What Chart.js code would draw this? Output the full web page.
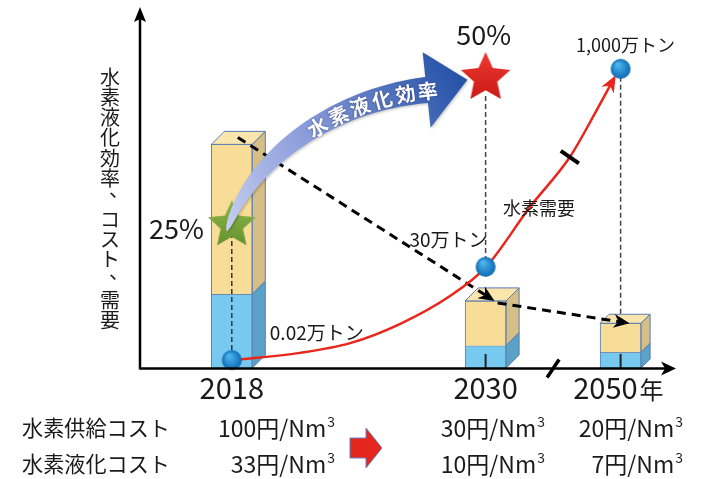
<!DOCTYPE html>
<html>
<head>
<meta charset="utf-8">
<script src="https://cdn.jsdelivr.net/npm/chart.js@4"></script>
<style>
  html, body { margin: 0; padding: 0; background: #fff; }
  #wrap { width: 703px; height: 479px; position: relative; }
</style>
</head>
<body>
<div id="wrap"><canvas id="chart"></canvas></div>
<script>
// データ
const years = ['2018', '2030', '2050'];
const yearPos = [17, 64, 89];                 // 横軸上の位置（途中省略あり）
const supplyCost = [100, 30, 20];             // 水素供給コスト 円/Nm3
const liquefactionCost = [33, 10, 7];         // 水素液化コスト 円/Nm3
const efficiency = [25, 50];                  // 水素液化効率 %
const demand = [0.02, 30, 1000];              // 水素需要 万トン
const demandLevel = [2.2, 28.1, 83.1];        // 需要の図上の高さ
const demandCurveX = [17, 29.6, 38.9, 48.1, 57.4, 64.1, 72.2, 79.6, 84.6, 87.4];
const demandCurveY = [2.2, 4.2, 6.9, 12.2, 20.0, 28.1, 44.7, 58.6, 71.7, 79.4];
const costRows = ['水素供給コスト', '水素液化コスト'];
const axisTitle = '水素液化効率、コスト、需要';

const FONT = '"Noto Sans CJK JP", "Noto Sans", sans-serif';
const boxDepth = [13, 13, 9];

function makeStar(r, c1, c2) {
  const cv = document.createElement('canvas');
  cv.width = cv.height = r * 2 + 4;
  const g = cv.getContext('2d');
  const c = r + 2;
  g.beginPath();
  for (let i = 0; i < 10; i++) {
    const rr = i % 2 === 0 ? r : r * 0.47;
    const a = -Math.PI / 2 + i * Math.PI / 5;
    g.lineTo(c + rr * Math.cos(a), c + rr * Math.sin(a));
  }
  g.closePath();
  const grad = g.createLinearGradient(0, 0, 0, cv.height);
  grad.addColorStop(0, c1);
  grad.addColorStop(1, c2);
  g.fillStyle = grad;
  g.fill();
  return cv;
}

function makeBall(r) {
  const cv = document.createElement('canvas');
  cv.width = cv.height = r * 2 + 2;
  const g = cv.getContext('2d');
  const c = r + 1;
  const grad = g.createRadialGradient(c - r * 0.3, c - r * 0.45, r * 0.1, c, c, r);
  grad.addColorStop(0, '#4cb6ee');
  grad.addColorStop(1, '#0d6bb4');
  g.fillStyle = grad;
  g.beginPath();
  g.arc(c, c, r, 0, Math.PI * 2);
  g.fill();
  return cv;
}

const starGreen = makeStar(25, '#93b84e', '#5e8d2a');
const starRed = makeStar(26, '#f03a30', '#c51515');
const ball = makeBall(10);

function poly(ctx, pts, fill, stroke) {
  ctx.beginPath();
  pts.forEach((p, i) => i ? ctx.lineTo(p[0], p[1]) : ctx.moveTo(p[0], p[1]));
  ctx.closePath();
  ctx.fillStyle = fill;
  ctx.fill();
  if (stroke) {
    ctx.strokeStyle = stroke;
    ctx.lineWidth = 1;
    ctx.stroke();
  }
}

function line(ctx, x1, y1, x2, y2, color, width, dash) {
  ctx.save();
  ctx.beginPath();
  ctx.setLineDash(dash || []);
  ctx.moveTo(x1, y1);
  ctx.lineTo(x2, y2);
  ctx.strokeStyle = color;
  ctx.lineWidth = width;
  ctx.stroke();
  ctx.restore();
}

function arrowHead(ctx, x1, y1, x2, y2, len, half, color) {
  const a = Math.atan2(y2 - y1, x2 - x1);
  ctx.save();
  ctx.translate(x2, y2);
  ctx.rotate(a);
  ctx.beginPath();
  ctx.moveTo(0, 0);
  ctx.lineTo(-len, -half);
  ctx.lineTo(-len * 0.7, 0);
  ctx.lineTo(-len, half);
  ctx.closePath();
  ctx.fillStyle = color;
  ctx.fill();
  ctx.restore();
}

function txt(ctx, s, x, y, size, align, color, weight) {
  ctx.font = (weight || '') + ' ' + size + 'px ' + FONT;
  ctx.textAlign = align || 'center';
  ctx.textBaseline = 'middle';
  ctx.fillStyle = color || '#1a1a1a';
  ctx.fillText(s, x, y);
}

// 指定幅に収まる文字サイズ
function fitSize(ctx, s, width, base) {
  ctx.font = base + 'px ' + FONT;
  return base * width / ctx.measureText(s).width;
}

function drawBoxes(chart) {
  const ctx = chart.ctx;
  const blue = chart.getDatasetMeta(0).data;
  const yel = chart.getDatasetMeta(1).data;
  const eff = chart.getDatasetMeta(2).data;
  const dem = chart.getDatasetMeta(4).data;
  const edge = '#5a7db3';
  const tops = [];
  yel.forEach((bar, i) => {
    const d = boxDepth[i];
    const L = bar.x - bar.width / 2, R = bar.x + bar.width / 2;
    const top = Math.min(bar.y, bar.base);
    const mid = Math.min(blue[i].y, blue[i].base);
    const bot = Math.max(blue[i].y, blue[i].base);
    poly(ctx, [[L, top], [L + d, top - d], [R + d, top - d], [R, top]], '#fae5ad', edge);
    poly(ctx, [[R, top], [R + d, top - d], [R + d, mid - d], [R, mid]], '#d6bf86', edge);
    poly(ctx, [[R, mid], [R + d, mid - d], [R + d, bot - d], [R, bot]], '#5aa2c8', edge);
    tops.push({ x: bar.x, top, d, bot });
    if (i === 0) {
      line(ctx, bar.x, eff[0].y, bar.x, dem[0].y, '#333', 1.5, [5, 3]);
    } else {
      const from = i === 1 ? eff[1].y + 18 : dem[i].y;
      const to = i === 1 ? dem[i].y : top - d;
      line(ctx, bar.x, from, bar.x, to, '#444', 1.5, [5, 3]);
      line(ctx, bar.x, bot - 14, bar.x, bot, '#222', 2);
    }
  });
  // コスト低下の破線矢印
  const a0 = { x: tops[0].x + 6, y: tops[0].top - 7 };
  const a1 = { x: tops[1].x + 9, y: tops[1].top };
  const b0 = { x: tops[1].x + 12, y: tops[1].top + 2 };
  const b1 = { x: tops[2].x + 9, y: tops[2].top };
  [[a0, a1], [b0, b1]].forEach(([p, q]) => {
    const ang = Math.atan2(q.y - p.y, q.x - p.x);
    line(ctx, p.x, p.y, q.x - 8 * Math.cos(ang), q.y - 8 * Math.sin(ang), '#000', 3, [9, 6]);
    arrowHead(ctx, p.x, p.y, q.x, q.y, 16, 7, '#000');
  });
}

function bez(P, t) {
  const u = 1 - t;
  return {
    x: u * u * u * P[0].x + 3 * u * u * t * P[1].x + 3 * u * t * t * P[2].x + t * t * t * P[3].x,
    y: u * u * u * P[0].y + 3 * u * u * t * P[1].y + 3 * u * t * t * P[2].y + t * t * t * P[3].y
  };
}
function bezD(P, t) {
  const u = 1 - t;
  return {
    x: 3 * u * u * (P[1].x - P[0].x) + 6 * u * t * (P[2].x - P[1].x) + 3 * t * t * (P[3].x - P[2].x),
    y: 3 * u * u * (P[1].y - P[0].y) + 6 * u * t * (P[2].y - P[1].y) + 3 * t * t * (P[3].y - P[2].y)
  };
}

function drawArrowBand(chart) {
  const ctx = chart.ctx;
  const eff = chart.getDatasetMeta(2).data;
  const s = eff[0], e = eff[1];
  const P0 = { x: s.x - 5, y: s.y + 6 };
  const P3 = { x: e.x - 59, y: e.y + 12 };
  const P = [P0, { x: P0.x + 23, y: P0.y - 71 }, { x: P3.x - 96, y: P3.y + 10 }, P3];
  const left = [], right = [];
  for (let k = 0; k <= 40; k++) {
    const t = k / 40;
    const b = bez(P, t), dv = bezD(P, t);
    const l = Math.hypot(dv.x, dv.y);
    const nx = -dv.y / l, ny = dv.x / l;
    const h = 0.5 + 12.5 * Math.sqrt(t);
    left.push([b.x + nx * h, b.y + ny * h]);
    right.push([b.x - nx * h, b.y - ny * h]);
  }
  const dEnd = bezD(P, 1);
  const le = Math.hypot(dEnd.x, dEnd.y);
  const ux = dEnd.x / le, uy = dEnd.y / le;
  const tip = [P3.x + ux * 41, P3.y + uy * 41 - 6];
  const pts = left.concat([[P3.x - uy * 38, P3.y + ux * 38], tip, [P3.x + uy * 38, P3.y - ux * 38]], right.reverse());
  const grad = ctx.createLinearGradient(P0.x, P0.y, tip[0], tip[1]);
  grad.addColorStop(0, '#c6cff0');
  grad.addColorStop(0.45, '#8598d8');
  grad.addColorStop(1, '#2350a6');
  ctx.save();
  ctx.shadowColor = 'rgba(0,0,0,0.25)';
  ctx.shadowBlur = 3;
  ctx.shadowOffsetX = 1;
  ctx.shadowOffsetY = 1;
  poly(ctx, pts, grad);
  ctx.restore();

  // 矢印上の文字
  const table = [];
  let acc = 0, prev = bez(P, 0);
  for (let k = 0; k <= 200; k++) {
    const b = bez(P, k / 200);
    acc += Math.hypot(b.x - prev.x, b.y - prev.y);
    table.push({ t: k / 200, s: acc, p: b });
    prev = b;
  }
  const total = acc;
  const at = (sv) => {
    if (sv >= total) return { x: P3.x + ux * (sv - total), y: P3.y + uy * (sv - total), a: Math.atan2(uy, ux) };
    const r = table.find(o => o.s >= sv);
    const dv = bezD(P, r.t);
    return { x: r.p.x, y: r.p.y, a: Math.atan2(dv.y, dv.x) };
  };
  const label = '水素液化効率';
  const start = table.find(o => o.t >= 0.58).s;
  ctx.save();
  ctx.font = 'bold 20px ' + FONT;
  ctx.textAlign = 'center';
  ctx.textBaseline = 'middle';
  ctx.fillStyle = '#fff';
  ctx.shadowColor = 'rgba(0,0,40,0.5)';
  ctx.shadowBlur = 2;
  [...label].forEach((ch, i) => {
    const q = at(start + i * 23.5);
    ctx.save();
    ctx.translate(q.x, q.y);
    ctx.rotate(q.a);
    ctx.fillText(ch, 0, 1);
    ctx.restore();
  });
  ctx.restore();
}

function drawCurveEnd(chart) {
  const ctx = chart.ctx;
  const pts = chart.getDatasetMeta(3).data;
  const n = pts.length;
  const p = pts[n - 2], q = pts[n - 1];
  arrowHead(ctx, p.x, p.y, q.x + (q.x - p.x) * 0.25, q.y + (q.y - p.y) * 0.25, 17, 7, '#e8261c');
  // 途中省略の印
  const m = pts[7], a = pts[6], b = pts[8];
  const dx = b.x - a.x, dy = b.y - a.y, l = Math.hypot(dx, dy);
  const nx = -dy / l * 11, ny = dx / l * 11;
  line(ctx, m.x - nx, m.y - ny, m.x + nx, m.y + ny, '#000', 4);
}

function drawAxes(chart) {
  const ctx = chart.ctx;
  const ca = chart.chartArea;
  const x0 = ca.left, y0 = ca.bottom + 0.5;
  line(ctx, x0, y0 + 1, x0, ca.top + 10, '#000', 2.5);
  poly(ctx, [[x0, ca.top - 1], [x0 - 6, ca.top + 14], [x0, ca.top + 11], [x0 + 6, ca.top + 14]], '#000');
  line(ctx, x0, y0, ca.right - 10, y0, '#000', 2.5);
  poly(ctx, [[ca.right - 4, y0], [ca.right - 19, y0 - 7], [ca.right - 15, y0], [ca.right - 19, y0 + 7]], '#000');
  const xs = chart.scales.x;
  const mx = (xs.getPixelForValue(yearPos[1]) + xs.getPixelForValue(yearPos[2])) / 2;
  line(ctx, mx - 6, y0 + 9, mx + 6, y0 - 9, '#000', 3.5);
}

function drawLabels(chart) {
  const ctx = chart.ctx;
  const xs = chart.scales.x;
  const eff = chart.getDatasetMeta(2).data;
  const dem = chart.getDatasetMeta(4).data;

  // 縦書きの軸タイトル
  [...axisTitle].forEach((ch, i) => {
    const cy = 77 + i * 20.3;
    if (ch === '、') txt(ctx, ch, 119, cy - 9, 20);
    else txt(ctx, ch, 110, cy, 20);
  });

  // 年
  years.forEach((y, i) => {
    const px = xs.getPixelForValue(yearPos[i]);
    if (i === 2) {
      txt(ctx, y, px + 17, 388, 29, 'right');
      txt(ctx, '年', px + 19, 390, 24, 'left');
    } else {
      txt(ctx, y, px, 388, 29, 'center');
    }
  });

  // 効率
  txt(ctx, efficiency[0] + '%', eff[0].x - 28, eff[0].y + 4, 27, 'right');
  txt(ctx, efficiency[1] + '%', eff[1].x - 2, eff[1].y - 43, 27, 'center');

  // 需要
  const dl = demand.map(v => v.toLocaleString('en-US') + '万トン');
  txt(ctx, dl[0], dem[0].x + 38, dem[0].y - 27, 19, 'left');
  txt(ctx, dl[1], dem[1].x + 2, dem[1].y - 27, 19, 'right');
  txt(ctx, dl[2], dem[2].x + 5, dem[2].y - 24, 18, 'center');
  txt(ctx, '水素需要', 539, 208, 18, 'center');

  // コスト表
  const colRight = [335, 545, 683];
  const rowY = [428, 464];
  const rowSize = fitSize(ctx, costRows[0], 148, 20);
  [supplyCost, liquefactionCost].forEach((arr, r) => {
    txt(ctx, costRows[r], 22, rowY[r], rowSize, 'left');
    arr.forEach((v, i) => {
      ctx.font = '14px ' + FONT;
      const w3 = ctx.measureText('3').width;
      txt(ctx, v + '円/Nm', colRight[i] - w3 - 1, rowY[r], 23, 'right');
      txt(ctx, '3', colRight[i], rowY[r] - 6, 14, 'right');
    });
  });
  // 赤い矢印
  poly(ctx, [[350, 438], [366, 438], [366, 428], [382, 448], [366, 468], [366, 458], [350, 458]], '#e4261d', '#6a7fc0');
}

const decoPlugin = {
  id: 'deco',
  afterDatasetDraw(chart, args) {
    if (args.index === 1) drawBoxes(chart);
    if (args.index === 2) drawArrowBand(chart);
    if (args.index === 3) drawCurveEnd(chart);
  },
  afterDraw(chart) {
    drawAxes(chart);
    drawLabels(chart);
  }
};

new Chart(document.getElementById('chart'), {
  type: 'bar',
  data: {
    datasets: [
      {
        label: costRows[1],
        data: yearPos.map((x, i) => ({ x, y: liquefactionCost[i] })),
        yAxisID: 'yCost',
        backgroundColor: '#77c9ef',
        borderColor: '#5a7db3',
        borderWidth: 1,
        barThickness: 41,
        grouped: false,
        order: 10
      },
      {
        label: costRows[0],
        data: yearPos.map((x, i) => ({ x, y: [liquefactionCost[i], supplyCost[i]] })),
        yAxisID: 'yCost',
        backgroundColor: '#f8dd98',
        borderColor: '#5a7db3',
        borderWidth: 1,
        barThickness: 41,
        grouped: false,
        order: 9
      },
      {
        type: 'scatter',
        label: '水素液化効率',
        data: efficiency.map((v, i) => ({ x: yearPos[i], y: v })),
        yAxisID: 'yEff',
        pointStyle: [starGreen, starRed],
        pointRadius: 26,
        clip: false,
        order: 3
      },
      {
        type: 'line',
        label: '水素需要',
        data: demandCurveX.map((x, i) => ({ x, y: demandCurveY[i] })),
        yAxisID: 'yLevel',
        borderColor: '#e8261c',
        borderWidth: 2.5,
        pointRadius: 0,
        cubicInterpolationMode: 'monotone',
        fill: false,
        order: 2
      },
      {
        type: 'scatter',
        label: '水素需要',
        data: demandLevel.map((v, i) => ({ x: yearPos[i], y: v })),
        yAxisID: 'yLevel',
        pointStyle: ball,
        pointRadius: 10,
        clip: false,
        order: 1
      }
    ]
  },
  options: {
    responsive: true,
    maintainAspectRatio: false,
    animation: false,
    events: [],
    layout: { autoPadding: false, padding: { left: 140, right: 23, top: 8, bottom: 111 } },
    plugins: { legend: { display: false }, tooltip: { enabled: false } },
    scales: {
      x: { type: 'linear', min: 0, max: 100, offset: false, display: false },
      yCost: { type: 'linear', min: 0, max: 161, display: false },
      yEff: { type: 'linear', min: 0.7, max: 61.9, display: false },
      yLevel: { type: 'linear', min: 0, max: 100, display: false }
    }
  },
  plugins: [decoPlugin]
});
</script>
</body>
</html>
